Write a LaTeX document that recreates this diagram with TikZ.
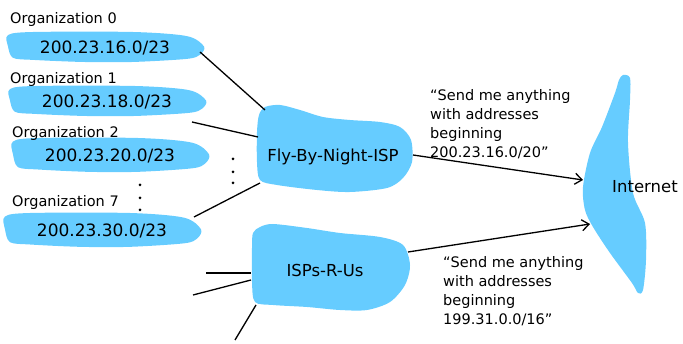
\documentclass[tikz,border=0pt]{standalone}
\usepackage{fontspec}
\setmainfont{DejaVu Sans}
\usetikzlibrary{arrows.meta}
\definecolor{cloudblue}{HTML}{66CCFF}
\tikzset{orglab/.style={font=\fontsize{14.5}{17}\selectfont,anchor=west,inner sep=0pt},
  addr/.style={font=\fontsize{17}{20}\selectfont,inner sep=0pt},
  ispname/.style={font=\fontsize{16.5}{19}\selectfont,inner sep=0pt},
  note/.style={font=\fontsize{14.5}{19}\selectfont,align=left,anchor=north west,inner sep=0pt},
  wire/.style={line width=1.3pt}}
\begin{document}
\begin{tikzpicture}[x=1pt,y=-1pt,>={Straight Barb[length=7pt,width=11pt]}]
\useasboundingbox (0,0) rectangle (683,344);
\foreach \i/\x/\y/\h/\o/\lx/\ly in {0/8/32/31/16/10/20,1/10/86/31/18/10/80,2/13/138/35/20/12/134,7/5/213/35/30/12/203}{
  \fill[cloudblue,shift={(\x,\y)},yscale=\h/30] plot[smooth cycle] coordinates {(0,3) (25,0) (125,0) (179,4) (196,14) (192,22) (179,26) (125,29) (75,29) (25,27) (5,25) (0,14)};
  \node[addr] (a\i) at (\x+97,\y+\h/2) {200.23.\o.0/23};\node[orglab] (l\i) at (\lx,\ly) {Organization \i};}
\fill[cloudblue] plot[smooth cycle] coordinates {(265,107) (280,105) (300,110) (323,117) (350,120) (380,122) (400,127) (411,140) (412,162) (403,178) (387,188) (350,192) (317,190) (277,185) (260,180) (257,162) (257,132) (259,115)};
\fill[cloudblue] plot[smooth cycle] coordinates {(260,227) (273,224) (307,228) (340,233) (380,237) (403,245) (410,265) (405,285) (390,302) (367,310) (340,310) (307,307) (273,305) (255,302) (252,282) (252,248) (253,233)};
\fill[cloudblue] plot[smooth cycle] coordinates {(623,75) (630,78) (630,100) (628,143) (633,193) (645,223) (646,260) (643,290) (638,293) (632,283) (610,253) (593,227) (585,210) (583,187) (590,153) (602,127) (615,93) (619,80)};
\node[ispname] (fly) at (333,157) {Fly-By-Night-ISP};\node[ispname] (rus) at (325,270) {ISPs-R-Us};
\node[ispname,anchor=west] (inet) at (612,187) {Internet};
\foreach \y in {185,198,210} \fill (140,\y) circle (1.5pt);\foreach \y in {159,172,183} \fill (233,\y) circle (1.5pt);
\coordinate (a0e) at (200,52);\coordinate (a1e) at (192,122);\coordinate (a7e) at (194,217);
\coordinate (f0) at (265,110);\coordinate (f1) at (258,137);\coordinate (f7) at (260,183);\coordinate (fe) at (413,155);
\coordinate (re) at (408,252);\coordinate (r1) at (251,273);\coordinate (r2) at (251,280);\coordinate (r3) at (256,305);
\coordinate (s1) at (206,273);\coordinate (s2) at (193,295);\coordinate (s3) at (235,340);
\coordinate (i1) at (583,180);\coordinate (i2) at (590,224);
\draw[wire] (a0e)--(f0);\draw[wire] (a1e)--(f1);\draw[wire] (a7e)--(f7);
\draw[wire] (s1)--(r1);\draw[wire] (s2)--(r2);\draw[wire] (s3)--(r3);
\draw[wire,->] (fe)--(i1);\draw[wire,->] (re)--(i2);
\node[note] (n1) at (430,89) {“Send me anything\\with addresses\\beginning\\200.23.16.0/20”};
\node[note] (n2) at (443,256) {“Send me anything\\with addresses\\beginning\\199.31.0.0/16”};
\end{tikzpicture}
\end{document}
